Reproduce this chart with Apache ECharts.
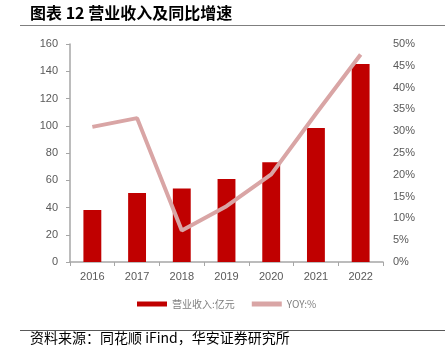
<!DOCTYPE html>
<html><head><meta charset="utf-8">
<script src="https://cdn.jsdelivr.net/npm/echarts@6/dist/echarts.min.js"></script>
<style>html,body{margin:0;padding:0;background:#fff}#c{width:445px;height:357px}</style>
</head><body><div id="c"></div>
<script>
const categories = ['2016','2017','2018','2019','2020','2021','2022'];
const revenue = [38.2, 50.6, 54.0, 61.0, 73.2, 98.3, 145.3];
const yoy = [31.0, 33.0, 7.2, 12.8, 20.1, 34.0, 47.6];
const leftTicks = [0,20,40,60,80,100,120,140,160];
const rightTicks = [0,5,10,15,20,25,30,35,40,45,50];

const chart = echarts.init(document.getElementById('c'), null, {renderer:'canvas'});
const fontCJK = '"Noto Sans CJK SC", sans-serif';
chart.setOption({
  animation: false,
  graphic: [
    {type:'text', left: 30, top: 5, style:{text:'图表 12 营业收入及同比增速', font:'bold 16px "Noto Sans CJK SC", sans-serif', fill:'#000'}},
    {type:'line', shape:{x1:20,y1:25.5,x2:445,y2:25.5}, style:{stroke:'#7f7f7f', lineWidth:1}},
    {type:'line', shape:{x1:20,y1:330.5,x2:445,y2:330.5}, style:{stroke:'#595959', lineWidth:1}},
    {type:'text', left: 30, top: 331, style:{text:'资料来源：同花顺 iFind，华安证券研究所', font:'14px "Noto Sans CJK SC", sans-serif', fill:'#000'}}
  ],
  grid: {left:70, right:62, top:44, bottom:95, containLabel:false},
  legend: {
    top: 294, left: 132,
    itemGap: 17, itemWidth: 30, itemHeight: 5,
    textStyle: {color:'#7f7f7f', fontSize:10, fontFamily: fontCJK},
    data: [{name:'营业收入:亿元', icon:'rect'}, {name:'YOY:%', icon:'rect'}]
  },
  xAxis: {
    type:'category', data: categories,
    axisLine:{lineStyle:{color:'#a6a6a6', width:1.5}},
    axisTick:{show:true, length:4, lineStyle:{color:'#a6a6a6'}},
    axisLabel:{color:'#595959', fontSize:11, margin:9, fontFamily:'Liberation Sans, Arial'}
  },
  yAxis: [
    {type:'value', min:0, max:160, interval:20,
     axisLine:{show:true, lineStyle:{color:'#a6a6a6', width:1.5}},
     axisTick:{show:true, length:4, lineStyle:{color:'#a6a6a6'}},
     splitLine:{show:false},
     axisLabel:{color:'#595959', fontSize:11, margin:12, fontFamily:'Liberation Sans, Arial',
       formatter: v => leftTicks.includes(v) ? String(v) : ''}},
    {type:'value', min:0, max:50, interval:5, position:'right',
     axisLine:{show:false}, axisTick:{show:false}, splitLine:{show:false},
     axisLabel:{color:'#595959', fontSize:11, margin:10, fontFamily:'Liberation Sans, Arial',
       formatter: v => rightTicks.includes(v) ? v + '%' : ''}}
  ],
  series: [
    {name:'营业收入:亿元', type:'bar', data: revenue, barWidth:'40%', itemStyle:{color:'#c00000'}, yAxisIndex:0},
    {name:'YOY:%', type:'line', data: yoy, yAxisIndex:1, symbol:'none',
     lineStyle:{color:'#d9a5a5', width:4}, itemStyle:{color:'#d9a5a5'}}
  ]
});
</script></body></html>
